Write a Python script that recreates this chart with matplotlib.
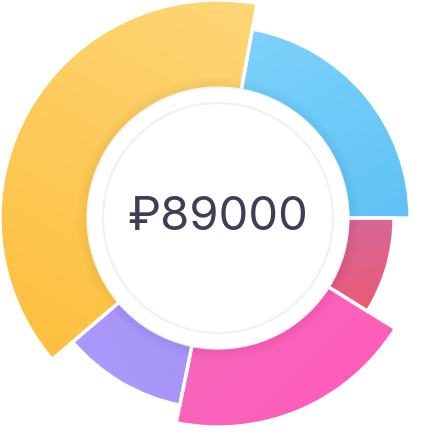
import numpy as np
import matplotlib.pyplot as plt
from matplotlib.patches import Wedge, Circle
from matplotlib.colors import LinearSegmentedColormap

# ── data ──────────────────────────────────────────────────────────────────────
labels = ["blue", "yellow", "purple", "pink", "red"]
values = [19700, 34800, 9400, 17200, 7900]
outer_r = [191, 217, 190, 208, 175]          # outer radius of each slice (px)
col_a = ["#7dd2fc", "#fed677", "#a08ff1", "#f36abb", "#d26b9f"]
col_b = ["#5fc2f5", "#fdc03f", "#ab99fc", "#ff5dba", "#ea5a77"]
grad_dir = [-60, -120, -150, -45, -80]       # gradient direction (deg), a -> b
inner_r = 130

total_text = "₽" + str(sum(values))

# ── figura ────────────────────────────────────────────────────────────────────
fig = plt.figure(figsize=(4.36, 4.36), dpi=100)
ax = fig.add_axes([0, 0, 1, 1])
ax.set_xlim(-218, 218)
ax.set_ylim(-218, 218)
ax.set_aspect("equal")
ax.axis("off")

xx, yy = np.meshgrid(np.linspace(-218, 218, 436), np.linspace(218, -218, 436))

angles = np.concatenate([[0], np.cumsum(values) / sum(values) * 360])
for i in range(len(values)):
    w = Wedge((0, 0), outer_r[i], angles[i], angles[i + 1],
              width=outer_r[i] - inner_r, facecolor="none", edgecolor="none")
    ax.add_patch(w)
    # linear gradient clipped to the slice
    u = np.array([np.cos(np.radians(grad_dir[i])), np.sin(np.radians(grad_dir[i]))])
    verts = w.get_path().vertices
    proj = verts @ u
    t = (xx * u[0] + yy * u[1] - proj.min()) / (proj.max() - proj.min())
    cmap = LinearSegmentedColormap.from_list(labels[i], [col_a[i], col_b[i]])
    im = ax.imshow(np.clip(t, 0, 1), cmap=cmap, vmin=0, vmax=1,
                   extent=(-218, 218, -218, 218), interpolation="bilinear", zorder=1)
    im.set_clip_path(w)
    # white separator
    ax.add_patch(Wedge((0, 0), outer_r[i] + 1, angles[i], angles[i + 1],
                       width=outer_r[i] + 1 - inner_r, facecolor="none",
                       edgecolor="white", lw=2.4, zorder=2))

# soft shadow around the center
for k in range(12, 0, -1):
    ax.add_patch(Circle((0, 0), inner_r + k, facecolor="black", alpha=0.0045,
                        edgecolor="none", zorder=3))

ax.add_patch(Circle((0, 0), inner_r, facecolor="white", edgecolor="none", zorder=4))
ax.add_patch(Circle((0, 0), 115, facecolor="none", edgecolor="#f1f1f3", lw=1.6, zorder=5))

ax.text(0, -12, total_text, ha="center", va="baseline", fontsize=34,
        color="#403e56", family=["Inter", "DejaVu Sans"], zorder=6)

fig.savefig("out.png", dpi=100, facecolor="white")
